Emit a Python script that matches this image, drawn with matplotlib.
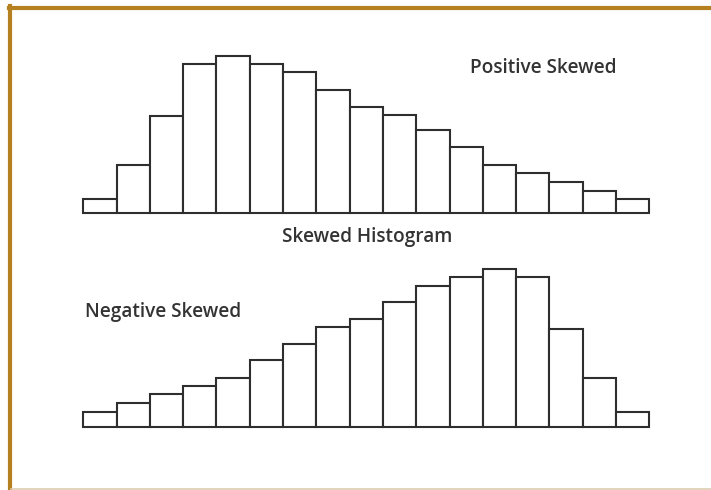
import matplotlib
matplotlib.use("Agg")
import matplotlib.pyplot as plt
from matplotlib.lines import Line2D

# bar heights (arbitrary count units), 17 bins each
bins = list(range(17))
positive_counts = [17, 58, 117, 180, 190, 180, 170, 148, 128, 119, 100, 80, 58, 48, 38, 27, 17]
negative_counts = [18, 28, 39, 49, 59, 80, 100, 120, 130, 150, 170, 180, 190, 180, 118, 59, 18]

title = "Skewed Histogram"
positive_label = "Positive Skewed"
negative_label = "Negative Skewed"

W, H = 711, 490
EDGE = "#2e2e2e"
TEXT = "#333333"
BORDER = "#b5801f"

fig = plt.figure(figsize=(W / 100, H / 100), dpi=100)
fig.patch.set_facecolor("white")


def px_box(left, baseline, width, height):
    # pixel box (from top-left) -> figure fraction rect
    return [left / W, (H - baseline) / H, width / W, height / H]


def draw_hist(rect, counts):
    ax = fig.add_axes(rect)
    ax.bar(bins, counts, width=1, align="edge", facecolor="white",
           edgecolor=EDGE, linewidth=1.5, clip_on=False)
    ax.set_xlim(0, len(bins))
    ax.set_ylim(0, 200)
    ax.axis("off")
    return ax


# 1 count unit ~ 0.83 px, axes span 0..200
draw_hist(px_box(83.3, 213.3, 566, 166), positive_counts)
draw_hist(px_box(83.3, 426.7, 566, 166), negative_counts)

font = dict(family="Open Sans", weight="semibold", size=13.7, color=TEXT, va="baseline", ha="center")
fig.text(543 / W, 1 - 73 / H, positive_label, **font)
fig.text(367.5 / W, 1 - 242 / H, title, **font)
fig.text(163.5 / W, 1 - 317 / H, negative_label, **font)

# frame around the picture
fig.add_artist(Line2D([8.5 / W, 1], [1 - 8 / H, 1 - 8 / H], color=BORDER, lw=3, transform=fig.transFigure))
fig.add_artist(Line2D([10 / W, 10 / W], [1 - 6.5 / H, 0], color=BORDER, lw=3, transform=fig.transFigure))
fig.add_artist(Line2D([11 / W, 1], [1.5 / H, 1.5 / H], color="#dccdb0", lw=1.2, transform=fig.transFigure))

fig.savefig("out.png", dpi=100)
